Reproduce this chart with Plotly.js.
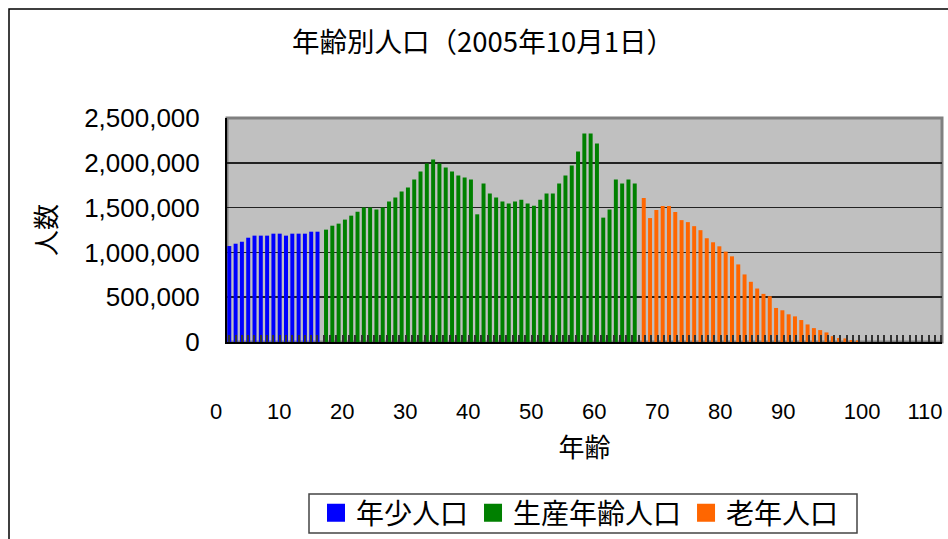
<!DOCTYPE html>
<html>
<head>
<meta charset="utf-8">
<script src="https://cdn.plot.ly/plotly-3.0.1.min.js"></script>
<style>html,body{margin:0;padding:0;background:#fff;}#chart{width:948px;height:539px;}</style>
</head>
<body>
<div id="chart"></div>
<script>
// ---- data ----
const youngAges = [0,1,2,3,4,5,6,7,8,9,10,11,12,13,14];
const youngPop = [1071000,1097000,1119000,1164000,1187000,1187000,1187000,1209000,1209000,1187000,1209000,1209000,1209000,1231000,1231000];

const workAges = [15,16,17,18,19,20,21,22,23,24,25,26,27,28,29,30,31,32,33,34,35,36,37,38,39,40,41,42,43,44,45,46,47,48,49,50,51,52,53,54,55,56,57,58,59,60,61,62,63,64];
const workPop = [1254000,1298000,1321000,1366000,1410000,1455000,1500000,1500000,1478000,1500000,
                 1567000,1612000,1679000,1724000,1813000,1903000,1992000,2037000,1992000,1948000,
                 1903000,1858000,1836000,1813000,1425000,1768000,1657000,1612000,1567000,1545000,
                 1567000,1589000,1545000,1522000,1589000,1657000,1657000,1768000,1858000,1970000,
                 2127000,2328000,2328000,2216000,1388000,1478000,1813000,1768000,1813000,1768000];

const oldAges = [65,66,67,68,69,70,71,72,73,74,75,76,77,78,79,80,81,82,83,84,85,86,87,88,89,90,91,92,93,94,95,96,97,98,99];
const oldPop = [1607000,1383000,1473000,1518000,1518000,1450000,1360000,1338000,1293000,1248000,
                1158000,1113000,1068000,1009000,956000,866000,754000,672000,597000,537000,
                511000,380000,354000,309000,286000,245000,196000,155000,133000,107000,
                65000,45000,40000,22000,18000];

const seriesNames = ['年少人口','生産年齢人口','老年人口'];
const xTickText = ['0','10','20','30','40','50','60','70','80','90','100','110'];
const xTickVals = [0,10,20,30,40,50,60,70,80,90,102.5,112.5];
const yTickVals = [0,500000,1000000,1500000,2000000,2500000];

const titleText = '年齢別人口（2005年10月1日）';
const xTitle = '年齢';
const yTitle = '人数';

// ---- style ----
const colors = ['#0000FF','#008000','#FF6600'];
const offsets = [-0.3, 0.05, 0.48];
const barW = 0.63;
const L = 227, R = 6, T = 118, B = 197, W = 948, H = 539;
const pw = W - L - R, ph = H - T - B;
const px2x = p => (p - L) / pw;
const px2y = p => (H - B - p) / ph;
const latin = "'Liberation Sans', 'Noto Sans CJK JP', sans-serif";
const cjk = "'Noto Sans CJK JP', 'Liberation Sans', sans-serif";

const xs = [youngAges, workAges, oldAges];
const ys = [youngPop, workPop, oldPop];

const traces = [];
for (let i = 0; i < 3; i++) {
  traces.push({
    type: 'bar', x: xs[i], y: ys[i], name: seriesNames[i],
    width: barW, offset: offsets[i],
    marker: {color: colors[i], line: {width: 0}},
    showlegend: false, legendgroup: 'g' + i, hoverinfo: 'x+y'
  });
}
for (let i = 0; i < 3; i++) {
  traces.push({
    type: 'scatter', mode: 'markers', x: [null], y: [null], name: seriesNames[i],
    marker: {symbol: 'square', size: 16, color: colors[i], line: {width: 2, color: colors[i]}},
    legendgroup: 'g' + i, showlegend: true
  });
}

const layout = {
  width: W, height: H,
  margin: {l: L, r: R, t: T, b: B, pad: 0, autoexpand: false},
  paper_bgcolor: '#ffffff',
  plot_bgcolor: '#C0C0C0',
  barmode: 'overlay',
  showlegend: true,
  title: {text: titleText, x: 483 / W, xref: 'container', xanchor: 'center',
          y: 1 - 42 / H, yref: 'container', yanchor: 'middle',
          font: {family: cjk, size: 27.5, color: '#000'}},
  xaxis: {
    range: [-0.35, 113.13], showgrid: false, zeroline: false,
    showline: true, linecolor: '#000', linewidth: 2,
    tickmode: 'array', tickvals: xTickVals, ticktext: xTickText,
    ticks: 'outside', ticklen: 0, ticklabelshift: -13, ticklabelstandoff: 49,
    tickfont: {family: latin, size: 22, color: '#000'},
    minor: {ticks: 'inside', ticklen: 7, tickwidth: 2, tickcolor: '#333', dtick: 1, tick0: 0, showgrid: false},
    title: {text: xTitle, font: {family: cjk, size: 26, color: '#000'}, standoff: 15},
    fixedrange: true
  },
  yaxis: {
    range: [0, 2500000], tickmode: 'array', tickvals: yTickVals, tickformat: ',d',
    showgrid: true, gridcolor: '#222', gridwidth: 1.5, zeroline: false,
    showline: true, linecolor: '#000', linewidth: 2, ticks: '',
    ticklabelstandoff: 20,
    tickfont: {family: latin, size: 26, color: '#000'},
    title: {text: yTitle, font: {family: cjk, size: 26, color: '#000'}, standoff: 20},
    fixedrange: true
  },
  legend: {
    orientation: 'h', xref: 'container', x: 580 / W, xanchor: 'center',
    yref: 'container', y: 1 - 488 / H, yanchor: 'top',
    borderwidth: 0, bgcolor: 'rgba(0,0,0,0)',
    font: {family: cjk, size: 28, color: '#000'}, itemsizing: 'trace'
  },
  shapes: [
    {type: 'rect', xref: 'paper', yref: 'paper', x0: 0, x1: 1, y0: 0, y1: 1,
     line: {color: '#808080', width: 3}, layer: 'below'},
    {type: 'rect', xref: 'paper', yref: 'paper', x0: px2x(9), x1: px2x(1000), y0: px2y(9), y1: px2y(600),
     line: {color: '#000', width: 1.5}, fillcolor: 'rgba(0,0,0,0)', layer: 'below'},
    {type: 'rect', xref: 'paper', yref: 'paper', x0: px2x(309), x1: px2x(857), y0: px2y(494), y1: px2y(533),
     line: {color: '#444', width: 1.5}, fillcolor: 'rgba(0,0,0,0)', layer: 'below'}
  ]
};

Plotly.newPlot('chart', traces, layout, {displayModeBar: false, staticPlot: true});
</script>
</body>
</html>
